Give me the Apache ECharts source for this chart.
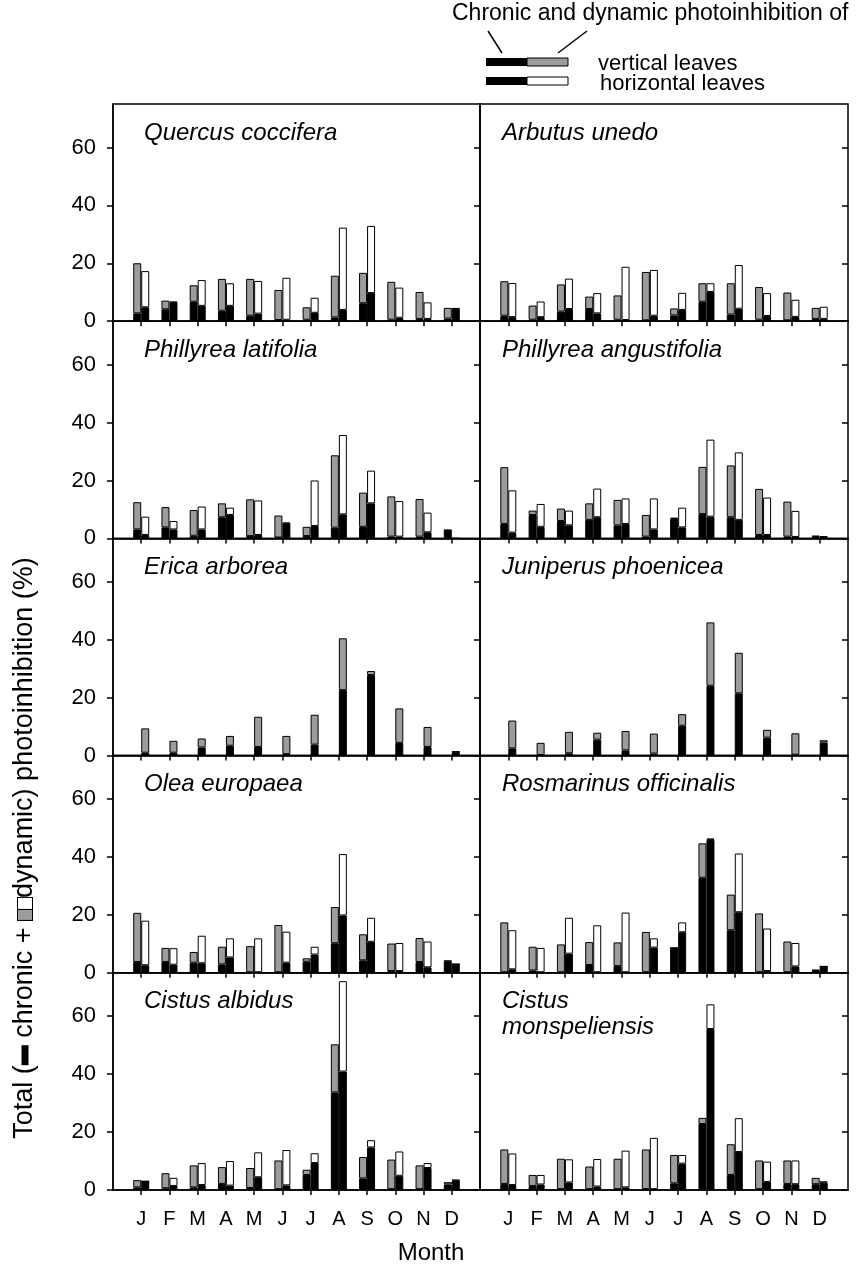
<!DOCTYPE html>
<html>
<head>
<meta charset="utf-8">
<title>Chronic and dynamic photoinhibition</title>
<script src="https://cdn.jsdelivr.net/npm/echarts@6/dist/echarts.min.js"></script>
<style>
    html, body { margin: 0; padding: 0; background: #fff; }
    #chart { width: 856px; height: 1270px; }
</style>
</head>
<body>
<div id="chart"></div>
<script>
'use strict';

// 月份标签
const months = ['J', 'F', 'M', 'A', 'M', 'J', 'J', 'A', 'S', 'O', 'N', 'D'];
const yTicks = [0, 20, 40, 60];

// 物种名称（按行、左右排列）
const species = [
    'Quercus coccifera', 'Arbutus unedo',
    'Phillyrea latifolia', 'Phillyrea angustifolia',
    'Erica arborea', 'Juniperus phoenicea',
    'Olea europaea', 'Rosmarinus officinalis',
    'Cistus albidus', 'Cistus\nmonspeliensis'
];

// 垂直叶：总抑制 / 慢性抑制
const vTotal = [
    [20.0, 7.1, 12.4, 14.6, 14.6, 10.8, 4.8, 15.7, 16.7, 13.6, 10.1, 4.6],
    [13.8, 5.4, 12.7, 8.5, 8.9, 17.0, 4.4, 13.1, 13.1, 11.8, 9.9, 4.6],
    [12.5, 10.8, 9.8, 12.1, 13.5, 7.9, 4.0, 28.7, 15.8, 14.5, 13.6, 2.9],
    [24.6, 9.6, 10.3, 12.1, 13.3, 8.1, 7.1, 24.7, 25.2, 17.1, 12.7, 1.0],
    [9.4, 5.1, 5.9, 6.8, 13.4, 6.8, 14.1, 40.5, 29.2, 16.3, 9.9, 1.4],
    [12.1, 4.4, 8.2, 7.9, 8.5, 7.6, 14.3, 46.0, 35.5, 8.9, 7.7, 5.3],
    [20.7, 8.6, 7.2, 9.0, 9.2, 16.5, 5.0, 22.7, 13.3, 10.1, 12.0, 4.2],
    [17.4, 9.0, 9.8, 10.6, 10.5, 14.1, 8.6, 44.7, 27.0, 20.5, 10.8, 1.0],
    [3.4, 5.8, 8.5, 7.9, 7.6, 10.2, 7.0, 50.3, 11.4, 10.5, 8.5, 2.7],
    [14.0, 5.2, 10.8, 8.1, 10.8, 14.0, 12.1, 24.9, 15.8, 10.2, 10.2, 4.2]
];
const vChronic = [
    [2.7, 4.1, 6.7, 3.6, 1.9, 0.4, 0.5, 1.3, 6.2, 0.5, 0.8, 0.9],
    [1.9, 0.5, 3.3, 4.2, 0.5, 0.3, 2.0, 6.7, 2.3, 0.5, 0.3, 0.8],
    [3.1, 3.8, 0.9, 7.3, 0.8, 0.3, 0.8, 3.7, 4.0, 0.6, 0.6, 2.8],
    [5.0, 8.1, 6.0, 6.4, 4.5, 0.6, 6.8, 8.4, 7.3, 1.2, 0.6, 0.5],
    [1.0, 1.0, 2.8, 3.4, 3.0, 0.5, 3.8, 22.6, 27.8, 4.4, 3.0, 1.3],
    [2.5, 0.2, 0.8, 5.5, 1.8, 0.7, 10.3, 24.1, 21.5, 6.2, 0.3, 4.5],
    [3.7, 3.7, 3.5, 2.9, 0.2, 0.2, 3.8, 10.2, 4.3, 0.6, 3.7, 4.0],
    [0.2, 0.8, 0.2, 2.7, 2.3, 0.2, 8.6, 32.8, 14.7, 0.2, 0.2, 0.8],
    [0.9, 0.6, 0.9, 2.1, 0.7, 0.3, 5.2, 33.7, 4.0, 0.3, 0.3, 1.9],
    [2.1, 1.4, 0.3, 0.3, 0.3, 0.3, 2.3, 22.8, 5.2, 0.3, 2.1, 2.0]
];

// 水平叶：总抑制 / 慢性抑制（Erica、Juniperus 无水平叶数据）
const hTotal = [
    [17.3, 6.7, 14.2, 13.1, 13.9, 15.0, 8.1, 32.3, 32.9, 11.6, 6.5, 4.5],
    [13.2, 6.8, 14.7, 9.7, 18.8, 17.7, 9.8, 13.1, 19.4, 9.7, 7.4, 5.0],
    [7.5, 6.0, 11.0, 10.6, 13.1, 5.4, 20.0, 35.7, 23.4, 12.9, 8.9, 0],
    [16.6, 11.9, 9.6, 17.2, 13.8, 13.8, 10.6, 34.1, 29.7, 14.1, 9.5, 0.8],
    null,
    null,
    [18.0, 8.5, 12.8, 11.9, 11.9, 14.2, 9.0, 41.0, 19.0, 10.3, 10.8, 3.0],
    [14.7, 8.6, 19.0, 16.4, 20.8, 11.9, 17.4, 46.4, 41.2, 15.3, 10.3, 2.2],
    [3.0, 4.2, 9.3, 10.0, 13.0, 13.8, 12.7, 72.1, 17.2, 13.3, 9.3, 3.5],
    [12.6, 5.2, 10.6, 10.7, 13.6, 18.0, 12.1, 64.1, 24.8, 9.8, 10.2, 3.0]
];
const hChronic = [
    [4.8, 6.5, 5.3, 5.3, 2.6, 0.5, 2.9, 3.9, 9.7, 1.2, 0.8, 4.3],
    [1.4, 1.4, 4.2, 2.7, 0.4, 1.9, 3.9, 10.1, 4.3, 1.8, 1.5, 0.8],
    [1.2, 3.1, 3.1, 8.1, 1.2, 5.2, 4.3, 8.3, 12.1, 0.6, 2.1, 0],
    [2.0, 4.0, 4.5, 7.3, 5.0, 3.1, 3.8, 7.5, 6.4, 1.2, 0.5, 0.5],
    null,
    null,
    [2.6, 2.8, 3.3, 5.3, 0.2, 3.5, 6.3, 19.8, 10.7, 0.6, 1.9, 3.0],
    [1.2, 0.2, 6.6, 0.2, 0.2, 8.7, 14.0, 45.9, 20.9, 0.6, 2.2, 2.2],
    [3.0, 1.4, 1.7, 1.5, 4.4, 1.6, 9.3, 40.9, 14.7, 4.9, 7.6, 3.3],
    [1.7, 1.9, 2.6, 1.2, 0.9, 0.3, 9.1, 55.6, 13.1, 2.8, 2.0, 2.5]
];

const FONT = '"Liberation Sans", Arial, sans-serif';
const GRAY = '#9c9c9c';
const LINE = { color: '#000', width: 1.5 };

// 面板布局
const PANEL_TOP = 104;
const PANEL_H = 217.2;
const COL_LEFT = [113, 480];
const COL_W = [367, 368];

// 类别轴: 两端各留一个空位，月份位于 1..12
const slots = [];
for (let i = 0; i < 14; i++) slots.push(String(i));

function pad(arr) {
    return [null].concat(arr, [null]);
}

function dynamicPart(total, chronic) {
    return total.map((t, i) => Math.max(0, +(t - chronic[i]).toFixed(2)));
}

const grids = [];
const xAxes = [];
const yAxes = [];
const series = [];
const graphics = [];

species.forEach((name, gi) => {
    const row = Math.floor(gi / 2);
    const col = gi % 2;
    const top = PANEL_TOP + row * PANEL_H;

    grids.push({
        left: COL_LEFT[col], top: top, width: COL_W[col], height: PANEL_H,
        show: true, borderColor: '#000', borderWidth: 1.5, backgroundColor: 'transparent'
    });

    xAxes.push({
        gridIndex: gi,
        type: 'category',
        boundaryGap: false,
        data: slots,
        axisLine: { show: true, onZero: false, lineStyle: LINE },
        axisTick: {
            show: true, length: 5, inside: false,
            interval: (idx) => idx > 0 && idx < 13,
            lineStyle: LINE
        },
        axisLabel: {
            show: row === 4,
            interval: 0,
            formatter: (v) => months[+v - 1] || '',
            fontSize: 20, fontFamily: FONT, color: '#000', margin: 19
        },
        splitLine: { show: false }
    });

    // 主 y 轴（外侧刻度 + 标签）
    yAxes.push({
        gridIndex: gi,
        type: 'value', min: 0, max: 75,
        axisLine: { show: true, lineStyle: LINE },
        axisTick: { show: true, inside: false, length: 6, customValues: yTicks, lineStyle: LINE },
        axisLabel: {
            show: col === 0, customValues: yTicks,
            fontSize: 22, fontFamily: FONT, color: '#000', margin: 17
        },
        splitLine: { show: false }
    });
    // 内侧刻度
    yAxes.push({
        gridIndex: gi,
        type: 'value', min: 0, max: 75,
        axisLine: { show: false },
        axisTick: { show: true, inside: true, length: 6, customValues: yTicks, lineStyle: LINE },
        axisLabel: { show: false },
        splitLine: { show: false }
    });

    const base = {
        type: 'bar', xAxisIndex: gi, yAxisIndex: gi * 2,
        barWidth: 8, barGap: '0%', silent: true
    };
    const border = { borderColor: '#000', borderWidth: 1 };

    const single = hTotal[gi] === null;
    const vC = vChronic[gi];
    const vD = dynamicPart(vTotal[gi], vChronic[gi]);

    if (!single) {
        const hC = hChronic[gi];
        const hD = dynamicPart(hTotal[gi], hChronic[gi]);
        series.push(Object.assign({}, base, { name: 'vertical chronic', stack: 'v' + gi, data: pad(vC), itemStyle: Object.assign({ color: '#000' }, border) }));
        series.push(Object.assign({}, base, { name: 'vertical dynamic', stack: 'v' + gi, data: pad(vD), itemStyle: Object.assign({ color: GRAY }, border) }));
        series.push(Object.assign({}, base, { name: 'horizontal chronic', stack: 'h' + gi, data: pad(hC), itemStyle: Object.assign({ color: '#000' }, border) }));
        series.push(Object.assign({}, base, { name: 'horizontal dynamic', stack: 'h' + gi, data: pad(hD), itemStyle: Object.assign({ color: '#fff' }, border) }));
    } else {
        // 只有垂直叶数据：第一个位置留空，柱子画在第二个位置
        const empty = months.map(() => null);
        series.push(Object.assign({}, base, { name: 'empty', stack: 'v' + gi, data: pad(empty), itemStyle: { color: '#000' } }));
        series.push(Object.assign({}, base, { name: 'vertical chronic', stack: 'h' + gi, data: pad(vC), itemStyle: Object.assign({ color: '#000' }, border) }));
        series.push(Object.assign({}, base, { name: 'vertical dynamic', stack: 'h' + gi, data: pad(vD), itemStyle: Object.assign({ color: GRAY }, border) }));
    }

    // 物种名称
    graphics.push({
        type: 'text',
        left: COL_LEFT[col] + (col === 0 ? 31 : 22),
        top: top + 16,
        style: {
            text: name, font: 'italic 24px ' + FONT, fill: '#000', lineHeight: 26
        },
        silent: true
    });
});

// y 轴标题（含小图例符号）
graphics.push({
    type: 'text',
    x: 25, y: 848,
    rotation: Math.PI / 2,
    style: {
        text: '{t|Total (}{k| }{t| chronic + }{g| }{w| }{t|dynamic) photoinhibition (%)}',
        align: 'center', verticalAlign: 'middle',
        rich: {
            t: { fontSize: 27, fontFamily: FONT, fill: '#000' },
            k: { width: 20, height: 7, backgroundColor: '#000' },
            g: { width: 11, height: 14, backgroundColor: GRAY, borderColor: '#000', borderWidth: 1 },
            w: { width: 11, height: 14, backgroundColor: '#fff', borderColor: '#000', borderWidth: 1 }
        }
    },
    silent: true
});

// x 轴标题
graphics.push({
    type: 'text', x: 431, y: 1253,
    style: { text: 'Month', font: '24px ' + FONT, fill: '#000', align: 'center', verticalAlign: 'middle' },
    silent: true
});

// 顶部图例
graphics.push(
    { type: 'text', x: 452, y: 14, style: { text: 'Chronic and dynamic photoinhibition of', font: '23px ' + FONT, fill: '#000', align: 'left', verticalAlign: 'middle' }, silent: true },
    { type: 'line', shape: { x1: 488, y1: 31, x2: 502, y2: 53 }, style: { stroke: '#000', lineWidth: 1.5 }, silent: true },
    { type: 'line', shape: { x1: 587, y1: 31, x2: 558, y2: 53 }, style: { stroke: '#000', lineWidth: 1.5 }, silent: true },
    { type: 'rect', shape: { x: 486, y: 58, width: 41, height: 8 }, style: { fill: '#000' }, silent: true },
    { type: 'rect', shape: { x: 527, y: 58, width: 41, height: 8 }, style: { fill: GRAY, stroke: '#000', lineWidth: 1 }, silent: true },
    { type: 'rect', shape: { x: 486, y: 77, width: 41, height: 8 }, style: { fill: '#000' }, silent: true },
    { type: 'rect', shape: { x: 527, y: 77, width: 41, height: 8 }, style: { fill: '#fff', stroke: '#000', lineWidth: 1 }, silent: true },
    { type: 'text', x: 598, y: 64, style: { text: 'vertical leaves', font: '22px ' + FONT, fill: '#000', align: 'left', verticalAlign: 'middle' }, silent: true },
    { type: 'text', x: 600, y: 84, style: { text: 'horizontal leaves', font: '22px ' + FONT, fill: '#000', align: 'left', verticalAlign: 'middle' }, silent: true }
);

const chart = echarts.init(document.getElementById('chart'), null, { renderer: 'canvas' });
chart.setOption({
    animation: false,
    backgroundColor: '#fff',
    grid: grids,
    xAxis: xAxes,
    yAxis: yAxes,
    series: series,
    graphic: graphics
});
</script>
</body>
</html>
